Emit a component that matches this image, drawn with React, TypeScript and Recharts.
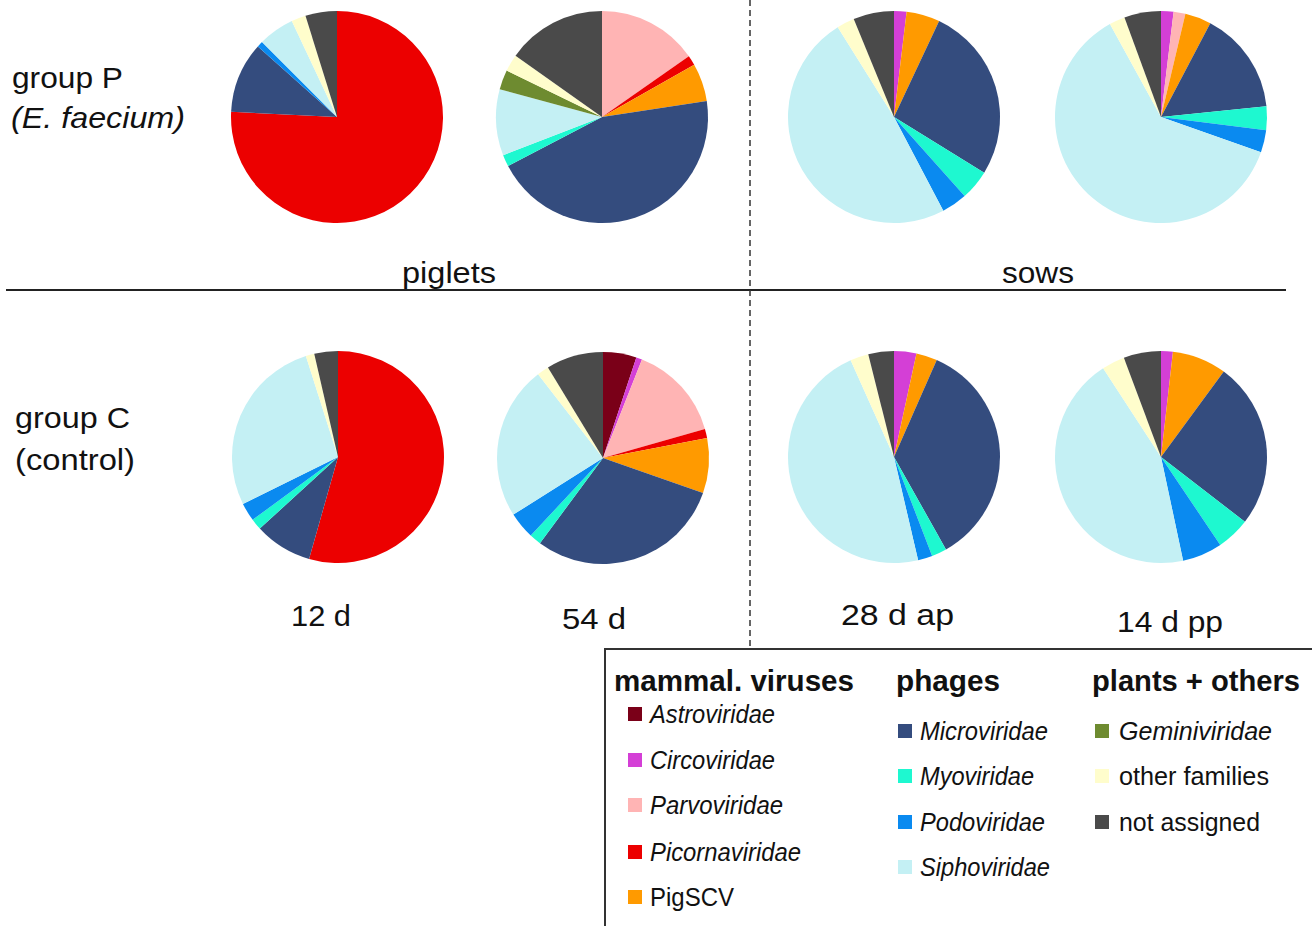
import React from 'react';
import { PieChart, Pie, Cell } from 'recharts';

const CATEGORIES = ['Astroviridae', 'Circoviridae', 'Parvoviridae', 'Picornaviridae', 'PigSCV', 'Microviridae', 'Myoviridae', 'Podoviridae', 'Siphoviridae', 'Geminiviridae', 'other families', 'not assigned'];
const COLORS = ['#7A0018', '#D43FD6', '#FFB4B4', '#EC0000', '#FF9A00', '#344C7E', '#1EF8D0', '#0A8AF0', '#C4F0F4', '#6E8B30', '#FFFDCC', '#4A4A4A'];
const ITALIC = [true, true, true, true, false, true, true, true, true, true, false, false];

const GROUP_HEADINGS = ['mammal. viruses', 'phages', 'plants + others'];
const GROUP_MEMBERS = [[0, 1, 2, 3, 4], [5, 6, 7, 8], [9, 10, 11]];

const PIGLETS_P_12D = [0, 0, 0, 75.7, 0, 10.8, 0, 0.9, 5.5, 0, 2.2, 4.8];
const PIGLETS_P_54D = [0, 0, 15.3, 1.5, 5.8, 44.8, 1.8, 0, 10.1, 3.0, 2.6, 15.2];
const SOWS_P_28AP = [0, 1.9, 0, 0, 5.1, 26.8, 4.6, 3.9, 48.8, 0, 2.7, 6.2];
const SOWS_P_14PP = [0, 1.9, 1.8, 0, 4.0, 15.7, 3.6, 3.4, 61.6, 0, 2.4, 5.6];
const PIGLETS_C_12D = [0, 0, 0, 54.4, 0, 8.8, 1.7, 2.8, 27.4, 0, 1.3, 3.6];
const PIGLETS_C_54D = [5.1, 0.9, 14.6, 1.4, 8.4, 29.8, 1.8, 4.1, 23.5, 0, 1.8, 8.7];
const SOWS_C_28AP = [0, 3.4, 0, 0, 3.2, 35.2, 2.3, 2.2, 46.9, 0, 2.8, 3.9];
const SOWS_C_14PP = [0, 1.8, 0, 0, 8.3, 25.4, 5.1, 6.1, 44.2, 0, 3.5, 5.7];

const ROW_LABELS = [['group P', '(E. faecium)'], ['group C', '(control)']];
const SECTION_LABELS = ['piglets', 'sows'];
const TIME_LABELS = ['12 d', '54 d', '28 d ap', '14 d pp'];

// layout
const PIES = [
  { values: PIGLETS_P_12D, cx: 337, cy: 117 },
  { values: PIGLETS_P_54D, cx: 602, cy: 117 },
  { values: SOWS_P_28AP, cx: 894, cy: 117 },
  { values: SOWS_P_14PP, cx: 1161, cy: 117 },
  { values: PIGLETS_C_12D, cx: 338, cy: 457 },
  { values: PIGLETS_C_54D, cx: 603, cy: 458 },
  { values: SOWS_C_28AP, cx: 894, cy: 457 },
  { values: SOWS_C_14PP, cx: 1161, cy: 457 },
];
const RADIUS = 106;

const ROW_LABEL_POS = [
  [{ x: 12, y: 88, w: 111 }, { x: 11, y: 128, w: 174 }],
  [{ x: 15, y: 428, w: 115 }, { x: 15, y: 470, w: 120 }],
];
const SECTION_POS = [{ x: 402, y: 283, w: 94 }, { x: 1002, y: 283, w: 72 }];
const TIME_POS = [{ x: 291, y: 626, w: 60 }, { x: 562, y: 629, w: 64 }, { x: 841, y: 625, w: 113 }, { x: 1117, y: 632, w: 106 }];

const LEGEND_COLS = [
  { hx: 614, hw: 240, sx: 628, tx: 650, ys: [722, 768, 813, 860, 905], ws: [125, 125, 133, 151, 84] },
  { hx: 896, hw: 104, sx: 898, tx: 920, ys: [739, 784, 830, 875], ws: [128, 114, 125, 130] },
  { hx: 1092, hw: 208, sx: 1095, tx: 1119, ys: [739, 784, 830], ws: [153, 150, 141] },
];

const FONT = '"Liberation Sans", Arial, sans-serif';
const NARROW = '"Liberation Sans Narrow", "Arial Narrow", "Liberation Sans", Arial, sans-serif';

const T = ({ x, y, w, size = 29, italic = false, bold = false, family = FONT, children }: any) => (
  <text
    x={x}
    y={y}
    textLength={w}
    lengthAdjust="spacingAndGlyphs"
    fontFamily={family}
    fontSize={size}
    fontStyle={italic ? 'italic' : 'normal'}
    fontWeight={bold ? 'bold' : 'normal'}
    fill="#111"
  >
    {children}
  </text>
);

export default function App() {
  return (
    <div style={{ position: 'absolute', left: 0, top: 0, width: 1312, height: 926, background: '#fff', overflow: 'hidden' }}>
      <div style={{ position: 'absolute', left: 0, top: 0 }}>
        <PieChart width={1312} height={926} margin={{ top: 0, right: 0, bottom: 0, left: 0 }}>
          {PIES.map((p, pi) => (
            <Pie
              key={pi}
              data={CATEGORIES.map((name, i) => ({ name, value: p.values[i] }))}
              dataKey="value"
              nameKey="name"
              cx={p.cx}
              cy={p.cy}
              outerRadius={RADIUS}
              innerRadius={0}
              startAngle={90}
              endAngle={-270}
              stroke="none"
              isAnimationActive={false}
              labelLine={false}
            >
              {CATEGORIES.map((c, i) => (
                <Cell key={c} fill={COLORS[i]} stroke="none" />
              ))}
            </Pie>
          ))}
        </PieChart>
      </div>
      <svg width={1312} height={926} style={{ position: 'absolute', left: 0, top: 0 }}>
        <line x1={6} y1={290} x2={1286} y2={290} stroke="#222" strokeWidth={2} />
        <line x1={750} y1={0} x2={750} y2={649} stroke="#333" strokeWidth={1.5} strokeDasharray="6 4" />
        {ROW_LABELS.map((row, r) =>
          row.map((lab, k) => (
            <T key={`${r}-${k}`} x={ROW_LABEL_POS[r][k].x} y={ROW_LABEL_POS[r][k].y} w={ROW_LABEL_POS[r][k].w} italic={r === 0 && k === 1}>
              {lab}
            </T>
          ))
        )}
        {SECTION_LABELS.map((s, i) => (
          <T key={s} x={SECTION_POS[i].x} y={SECTION_POS[i].y} w={SECTION_POS[i].w}>{s}</T>
        ))}
        {TIME_LABELS.map((s, i) => (
          <T key={s} x={TIME_POS[i].x} y={TIME_POS[i].y} w={TIME_POS[i].w}>{s}</T>
        ))}
        <rect x={605} y={649} width={760} height={320} fill="#fff" stroke="#333" strokeWidth={2} />
        {GROUP_HEADINGS.map((h, g) => {
          const col = LEGEND_COLS[g];
          return (
            <g key={h}>
              <T x={col.hx} y={691} w={col.hw} size={29} bold family={NARROW}>{h}</T>
              {GROUP_MEMBERS[g].map((ci, k) => (
                <g key={ci}>
                  <rect x={col.sx} y={col.ys[k] - 15} width={14} height={14} fill={COLORS[ci]} />
                  <T x={col.tx} y={col.ys[k] + 1} w={col.ws[k]} size={26} italic={ITALIC[ci]} family={NARROW}>{CATEGORIES[ci]}</T>
                </g>
              ))}
            </g>
          );
        })}
      </svg>
    </div>
  );
}
